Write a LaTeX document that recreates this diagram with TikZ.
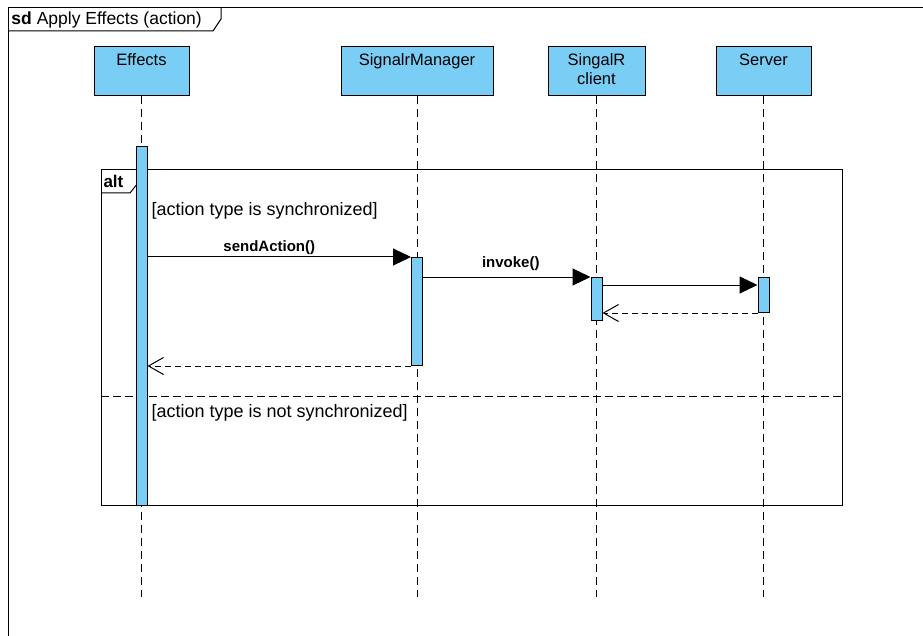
\documentclass[tikz,border=0pt]{standalone}
\usepackage{fontspec}
\setmainfont{Liberation Sans}
\usetikzlibrary{arrows.meta, positioning, calc}
\definecolor{cblue}{HTML}{7ACDF4}
\tikzset{
  every picture/.style={font=\fontsize{16.5}{19}\selectfont, line width=1pt, x=1pt, y=-1pt},
  head/.style={draw, fill=cblue, minimum width=#1, minimum height=49pt, anchor=north, inner sep=0pt},
  headlbl/.style={anchor=north, inner ysep=7pt, align=center},
  bar/.style={draw, fill=cblue, minimum width=11pt, minimum height=#1, anchor=north, inner sep=0pt},
  lifeline/.style={dash pattern=on 8pt off 5pt},
  msg/.style={-{Triangle[length=18pt, width=17pt]}},
  reply/.style={dash pattern=on 6pt off 4pt, -{Straight Barb[length=15pt, width=17pt]}},
  msglbl/.style={font=\fontsize{15}{17}\selectfont\bfseries, inner sep=1.5pt},
  guard/.style={font=\fontsize{18}{20}\selectfont, anchor=west, inner sep=0pt},
}

\begin{document}
\begin{tikzpicture}
  \useasboundingbox (0,0) rectangle (923,636);
  % outer sd frame, it runs off the page on the right and at the bottom
  \draw (940,8) -- (8,8) -- (8,650);
  \draw (8,31) -- (213,31) -- (221,19) -- (221,8);
  \node[anchor=base west, inner sep=0pt, font=\fontsize{17.5}{19}\selectfont] (title) at (11,25) {\textbf{sd} Apply Effects (action)};
  % lifeline heads
  \node[head=95pt, label={[headlbl]north:Effects}] (effects) at (141.5,46) {};
  \node[head=152pt, label={[headlbl]north:SignalrManager}] (manager) at (417,46) {};
  \node[head=97pt, label={[headlbl]north:SingalR\\client}] (client) at (596.5,46) {};
  \node[head=95pt, label={[headlbl]north:Server}] (server) at (763.5,46) {};
  \coordinate (bot) at (0,597);
  \foreach \n in {effects,manager,client,server} \draw[lifeline] (\n.south) -- (\n.south |- bot);
  % alt fragment with its two operands
  \node[draw, minimum width=741pt, minimum height=336pt, anchor=north west, inner sep=0pt] (alt) at (101,169) {};
  \draw (alt.north west) ++(0,24) -- ++(29,0) -- ++(8,-10) -- ++(0,-14);
  \node[anchor=base west, inner sep=0pt, font=\fontsize{17}{19}\selectfont\bfseries] (altlbl) at (103,188) {alt};
  \coordinate (split) at (0,396);
  \draw[dash pattern=on 8pt off 4pt] (alt.west |- split) -- (alt.east |- split);
  \node[guard] (g1) at (151,211) {[action type is synchronized]};
  \node[guard] (g2) at (151,413) {[action type is not synchronized]};
  % activation bars
  \node[bar=359pt] (a1) at (141.5,146) {};
  \node[bar=108pt] (a2) at (417,257) {};
  \node[bar=43pt] (a3) at (596.5,277) {};
  \node[bar=35pt] (a4) at (763.5,277) {};
  % messages
  \draw[msg] (a1.east |- a2.north west) -- (a2.north west) node[midway, above, msglbl, xshift=-10pt] (m1) {sendAction()};
  \draw[msg] (a2.east |- a3.north west) -- (a3.north west) node[midway, above, msglbl, xshift=4pt, yshift=4pt] (m2) {invoke()};
  \draw[msg] ([yshift=-8pt]a3.north east) -- ([yshift=-8pt]a4.north west);
  \draw[reply] (a4.south west) -- (a4.south west -| a3.east);
  \draw[reply] (a2.south west) -- (a2.south west -| a1.east);
\end{tikzpicture}
\end{document}
